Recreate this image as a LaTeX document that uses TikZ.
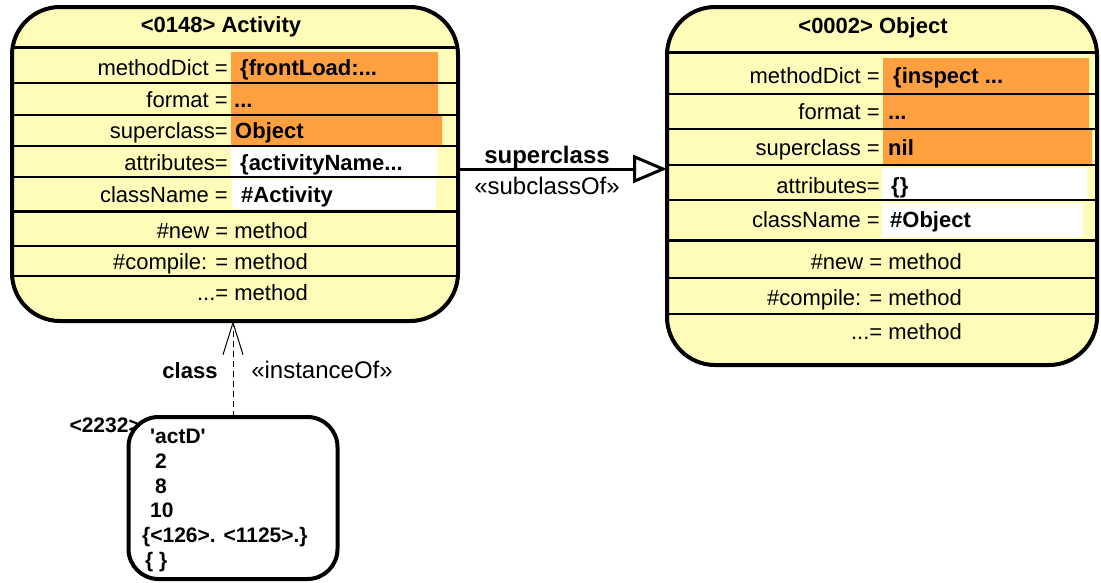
\documentclass[tikz,border=0pt]{standalone}
\usepackage{fontspec}
\setmainfont{Liberation Sans}
\usetikzlibrary{arrows.meta,positioning}
\definecolor{classyellow}{HTML}{FFFBB8}
\definecolor{slotorange}{HTML}{FFA040}
\tikzset{
  classbox/.style={draw,line width=4pt,fill=classyellow,rounded corners=48pt,inner sep=0pt,outer sep=0pt},
  instbox/.style={draw,line width=4pt,fill=white,rounded corners=30pt,inner sep=0pt,outer sep=0pt},
  txt/.style={inner sep=0pt,font=\fontsize{22}{26}\selectfont},
  btxt/.style={inner sep=0pt,font=\fontsize{22}{26}\selectfont\bfseries},
  itxt/.style={inner sep=0pt,anchor=base west,font=\fontsize{21}{24}\selectfont\bfseries},
  linklab/.style={inner sep=0pt,anchor=base,font=\fontsize{24}{28}\selectfont},
  rowline/.style={line width=1.3pt},
  sepline/.style={line width=3pt},
  subarrow/.style={line width=3pt,-{Triangle[open,length=34pt,width=28pt,fill=white]}},
  instarrow/.style={line width=1pt,dash pattern=on 6pt off 4pt,-{Straight Barb[length=32pt,width=20pt]}},
}
\begin{document}
\begin{tikzpicture}[x=1pt,y=-1pt]
	\useasboundingbox (0,0) rectangle (1101,582);
	% class Activity
	\node[classbox,minimum width=446,minimum height=314] (activity) at (235,164) {};
	\begin{scope}
		\clip[rounded corners=48pt] (activity.north west) rectangle (activity.south east);
		\fill[slotorange] (231,52) rectangle (438,115) (231,115) rectangle (442,146);
		\fill[white] (231,147) rectangle (437,177) (232,179) rectangle (436,209);
		\foreach \y in {83,115,146,177,246,276}
		\draw[rowline] (0,\y) -- (470,\y);
		\foreach \y in {47,211}
		\draw[sepline] (0,\y) -- (470,\y);
	\end{scope}
	\node[btxt,anchor=base] (acttitle) at (221,32) {<0148> Activity};
	\foreach \y/\lab in {75/methodDict =,107/format =,138/superclass=,170/attributes=,202/className =}
	\node[txt,anchor=base east] at (228,\y) {\lab};
	\node[btxt,anchor=base west] (actdict) at (240,75) {\{frontLoad:...};
	\node[btxt,anchor=base west] (actformat) at (234,107) {...};
	\node[btxt,anchor=base west] (actsuper) at (235,138) {Object};
	\node[btxt,anchor=base west] (actattr) at (240,170) {\{activityName...};
	\node[btxt,anchor=base west] (actname) at (241,202) {\#Activity};
	\node[txt,anchor=base east] (actnew) at (308,238) {\#new = method};
	\node[txt,anchor=base east] (actcomp) at (308,269) {\#compile: = method};
	\node[txt,anchor=base east] (actdots) at (308,300) {...= method};
	% class Object
	\node[classbox,minimum width=430,minimum height=358] (object) at (882,186) {};
	\begin{scope}
		\clip[rounded corners=48pt] (object.north west) rectangle (object.south east);
		\fill[slotorange] (883,58) rectangle (1089,129) (883,129) rectangle (1092,165);
		\fill[white] (882,168) rectangle (1087,200) (882,203) rectangle (1083,237);
		\foreach \y in {94,129,165,200,278,314}
		\draw[rowline] (650,\y) -- (1101,\y);
		\foreach \y in {52,240}
		\draw[sepline] (650,\y) -- (1101,\y);
	\end{scope}
	\node[btxt,anchor=base] (objtitle) at (873,33) {<0002> Object};
	\foreach \y/\lab in {83/methodDict =,119/format =,155/superclass =,193/attributes=,227/className =}
	\node[txt,anchor=base east] at (880,\y) {\lab};
	\node[btxt,anchor=base west] (objdict) at (893,83) {\{inspect ...};
	\node[btxt,anchor=base west] (objformat) at (888,119) {...};
	\node[btxt,anchor=base west] (objsuper) at (888,155) {nil};
	\node[btxt,anchor=base west] (objattr) at (891,193) {\{\}};
	\node[btxt,anchor=base west] (objname) at (890,227) {\#Object};
	\node[txt,anchor=base east] (objnew) at (962,269) {\#new = method};
	\node[txt,anchor=base east] (objcomp) at (962,305) {\#compile: = method};
	\node[txt,anchor=base east] (objdots) at (962,339) {...= method};
	% superclass link
	\coordinate (arrowrow) at (0,169);
	\draw[subarrow] (activity.east |- arrowrow) -- (object.west |- arrowrow);
	\node[linklab,font=\fontsize{24}{28}\selectfont\bfseries] (suplab) at (547,163) {superclass};
	\node[linklab] (subof) at (547,194) {«subclassOf»};
	% instance actD
	\node[instbox,minimum width=209,minimum height=162] (instance) at (233,498) {};
	\draw[instarrow] (instance.north) -- (instance.north |- activity.south);
	\node[btxt,anchor=base] (classlab) at (190,378) {class};
	\node[linklab] (instof) at (322,378) {«instanceOf»};
	\node[btxt,anchor=base east,font=\fontsize{21}{24}\selectfont\bfseries] (instid) at (141,432) {<2232>};
	\foreach \y/\x/\val in {443/150/\textquotesingle actD\textquotesingle,468/155/2,493/155/8,517/150/10,542/142/\{<126>. <1125>.\},567/145/\{ \}}
	\node[itxt] at (\x,\y) {\val};
\end{tikzpicture}
\end{document}
